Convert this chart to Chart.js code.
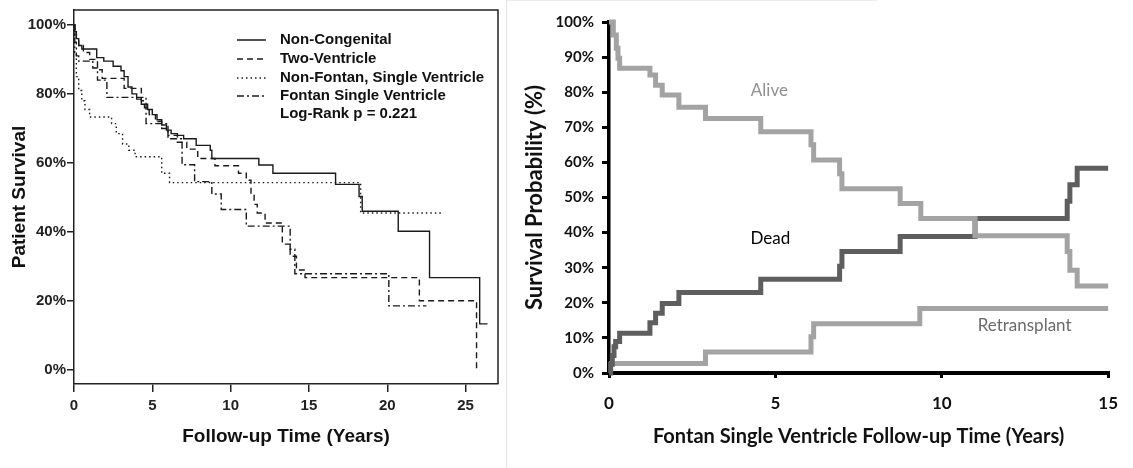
<!DOCTYPE html>
<html><head><meta charset="utf-8">
<script src="https://cdn.jsdelivr.net/npm/chart.js@4.4.1/dist/chart.umd.min.js"></script>
<style>
html,body{margin:0;padding:0;background:#fff;}
#wrap{position:relative;width:1133px;height:468px;overflow:hidden;background:#fff;}
#c1{position:absolute;left:0;top:0;}
#c2{position:absolute;left:507px;top:0;}
#divider{position:absolute;left:506px;top:0;width:1px;height:468px;background:#e4e4e4;}
#topline{position:absolute;left:507px;top:0;width:370px;height:1px;background:#ececec;}
</style></head>
<body><div id="wrap">
<canvas id="c1" width="506" height="468"></canvas>
<div id="divider"></div><div id="topline"></div>
<canvas id="c2" width="626" height="468"></canvas>
</div>
<script>
// ---------- Left panel data (years, % survival) ----------
const leftXTicks = [0, 5, 10, 15, 20, 25];
const leftYTicks = [0, 20, 40, 60, 80, 100];
const seriesNames = ['Non-Congenital', 'Two-Ventricle', 'Non-Fontan, Single Ventricle', 'Fontan Single Ventricle'];
const pValueText = 'Log-Rank p = 0.221';

const nonCongX = [0, 0.05, 0.15, 0.3, 0.5, 1.45, 1.9, 2.5, 3.0, 3.2, 3.45, 3.7, 4.0, 4.3, 4.7, 5.0, 5.3, 5.6, 5.9, 6.2, 6.6, 7.0, 7.8, 8.7, 8.8, 11.8, 12.7, 16.7, 18.2, 18.4, 20.7, 22.7, 25.9, 26.4];
const nonCongY = [100, 98, 96, 94, 93, 90.5, 89.5, 88, 86.7, 85, 82, 80, 78.5, 77, 75.5, 74, 72.5, 71, 69.5, 68.5, 68, 67, 65.1, 63.7, 61.3, 59.4, 57, 53.8, 50.3, 46, 40.2, 26.8, 13.4, 13.4];

const twoVentX = [0, 0.05, 0.15, 0.3, 0.6, 1.0, 1.5, 1.8, 3.2, 4.3, 4.5, 4.8, 5.2, 5.6, 6.0, 6.6, 7.2, 7.9, 9.0, 10.5, 11.0, 11.3, 11.5, 11.7, 12.2, 13.3, 13.8, 14.2, 14.75, 22.05, 25.7];
const twoVentY = [100, 98, 96, 94, 92, 90, 87, 84.5, 81.6, 78, 76, 74, 72, 70, 68, 66, 64, 61.3, 59.2, 57, 55, 51, 48, 45.5, 42.6, 36.5, 33, 29, 26.8, 20.1, 0];

const nonFontanX = [0, 0.05, 0.15, 0.3, 0.5, 0.7, 1.0, 2.4, 2.7, 3.1, 3.5, 3.9, 5.6, 6.1, 18.3, 23.5];
const nonFontanY = [100, 92, 85, 81, 78, 75.5, 73.3, 71.4, 68.5, 65.5, 63.7, 61.8, 57, 54.3, 45.5, 45.5];

const fontanX = [0, 0.05, 0.15, 0.3, 1.2, 1.5, 2.1, 4.6, 6.0, 6.9, 7.7, 8.8, 9.4, 11.0, 13.8, 14.1, 20.1, 22.5];
const fontanY = [100, 95, 91, 89.5, 87.5, 84, 79, 71.4, 67, 59.5, 54.6, 51, 46.5, 41.7, 35, 27.9, 18.6, 18.6];

// ---------- Right panel data (years, % probability) ----------
const rightXTicks = [0, 5, 10, 15];
const rightYTicks = [0, 10, 20, 30, 40, 50, 60, 70, 80, 90, 100];
const outcomeNames = ['Alive', 'Dead', 'Retransplant'];

const aliveX = [0, 0.03, 0.13, 0.22, 0.27, 0.32, 1.23, 1.4, 1.6, 2.1, 2.9, 4.56, 6.07, 6.15, 6.93, 7.0, 8.75, 9.37, 11.0, 13.77, 13.85, 14.07, 15];
const aliveY = [100, 100, 96.3, 92.5, 89.7, 86.8, 84.9, 82, 79.2, 75.7, 72.5, 68.7, 65, 60.7, 56.8, 52.5, 48.3, 44, 39.1, 34.6, 29.3, 24.8, 24.8];

const deadX = [0, 0.05, 0.1, 0.15, 0.2, 0.32, 1.23, 1.4, 1.6, 2.1, 4.56, 6.93, 7.0, 8.75, 11.0, 13.77, 13.85, 14.07, 15];
const deadY = [0, 2.5, 5, 7.5, 9, 11.3, 14.3, 17, 19.8, 22.9, 26.7, 30.4, 34.6, 38.9, 44, 48.9, 53.6, 58.3, 58.3];

const retxX = [0, 2.9, 6.07, 6.15, 9.34, 15];
const retxY = [2.7, 6, 10.3, 14, 18.4, 18.4];

// ---------- helpers ----------
const pts = (xs, ys) => xs.map((x, i) => ({ x: x, y: ys[i] }));
const tickSetter = arr => s => { s.ticks = arr.map(v => ({ value: v })); };
const LFONT = "'Liberation Sans', Arial, sans-serif";
const RFONT = "Lato, 'Open Sans', sans-serif";

const leftStyles = [
  { dash: [] }, { dash: [6, 4] }, { dash: [1.5, 3] }, { dash: [7, 3, 2, 3] }
];
const leftData = [pts(nonCongX, nonCongY), pts(twoVentX, twoVentY), pts(nonFontanX, nonFontanY), pts(fontanX, fontanY)];

const boxPlugin = {
  id: 'box',
  afterDatasetsDraw(chart) {
    const { ctx, chartArea: a } = chart;
    ctx.save();
    ctx.strokeStyle = '#222'; ctx.lineWidth = 1.5;
    ctx.beginPath();
    ctx.moveTo(a.left, a.top); ctx.lineTo(a.right, a.top); ctx.lineTo(a.right, a.bottom);
    ctx.stroke();
    ctx.restore();
  },
  afterDraw(chart) {
    const { ctx, chartArea: a } = chart;
    ctx.save();
    const x0 = a.left + 163, x1 = a.left + 192, tx = a.left + 206;
    const rows = [a.top + 30, a.top + 49, a.top + 68, a.top + 86, a.top + 104];
    ctx.font = "bold 15px " + LFONT;
    ctx.fillStyle = '#111';
    ctx.textBaseline = 'middle';
    seriesNames.forEach((n, i) => {
      ctx.strokeStyle = '#1a1a1a'; ctx.lineWidth = 1.5;
      ctx.setLineDash(leftStyles[i].dash);
      ctx.beginPath(); ctx.moveTo(x0, rows[i]); ctx.lineTo(x1, rows[i]); ctx.stroke();
      ctx.setLineDash([]);
      ctx.fillText(n, tx, rows[i]);
    });
    ctx.fillText(pValueText, tx, rows[4]);
    ctx.restore();
  }
};

new Chart(document.getElementById('c1'), {
  type: 'line',
  data: {
    datasets: seriesNames.map((n, i) => ({
      label: n, data: leftData[i], stepped: 'before', borderColor: '#1a1a1a',
      borderWidth: 1.4, borderDash: leftStyles[i].dash, pointRadius: 0, fill: false,
      borderCapStyle: 'butt', borderJoinStyle: 'miter'
    }))
  },
  options: {
    responsive: false, animation: false, devicePixelRatio: 1,
    layout: { padding: { top: 7, right: 8, left: 0, bottom: 0 } },
    plugins: { legend: { display: false }, tooltip: { enabled: false } },
    scales: {
      x: {
        type: 'linear', min: 0, max: 27.07,
        afterBuildTicks: tickSetter(leftXTicks),
        afterFit: s => { s.height = 84; },
        grid: { drawOnChartArea: false, drawTicks: true, tickLength: 8, color: '#222', lineWidth: 1.5 },
        border: { display: true, color: '#222', width: 1.5 },
        ticks: { font: { family: LFONT, size: 15, weight: 'bold' }, color: '#222', padding: 5, maxRotation: 0 },
        title: { display: true, text: 'Follow-up Time (Years)', font: { family: LFONT, size: 19, weight: 'bold' }, color: '#111', padding: { top: 0, bottom: 20 } }
      },
      y: {
        type: 'linear', min: -4.02, max: 104.3,
        afterBuildTicks: tickSetter(leftYTicks),
        afterFit: s => { s.width = 74; },
        grid: { drawOnChartArea: false, drawTicks: true, tickLength: 7, color: '#222', lineWidth: 1.5 },
        border: { display: true, color: '#222', width: 1.5 },
        ticks: { font: { family: LFONT, size: 15, weight: 'bold' }, color: '#222', padding: 1, callback: v => v + '%' },
        title: { display: true, text: 'Patient Survival', font: { family: LFONT, size: 19, weight: 'bold' }, color: '#111', padding: { top: 8, bottom: 0 } }
      }
    }
  },
  plugins: [boxPlugin]
});

// ---------- Right panel ----------
const rightColors = ['#a3a3a3', '#5e5e5e', '#a3a3a3'];
const rightData = [pts(aliveX, aliveY), pts(deadX, deadY), pts(retxX, retxY)];
const labelSpecs = [
  { text: outcomeNames[0], x: 4.82, y: 80.6, color: '#8f8f8f' },
  { text: outcomeNames[1], x: 4.85, y: 38.2, color: '#000' },
  { text: outcomeNames[2], x: 12.49, y: 13.4, color: '#6a6a6a' }
];
const labelPlugin = {
  id: 'labels',
  afterDatasetsDraw(chart) {
    const { ctx, scales } = chart;
    ctx.save();
    ctx.font = "17px " + RFONT;
    ctx.textAlign = 'center'; ctx.textBaseline = 'middle';
    labelSpecs.forEach(l => {
      ctx.fillStyle = l.color;
      ctx.fillText(l.text, scales.x.getPixelForValue(l.x), scales.y.getPixelForValue(l.y));
    });
    ctx.restore();
  }
};

new Chart(document.getElementById('c2'), {
  type: 'line',
  data: {
    datasets: outcomeNames.map((n, i) => ({
      label: n, data: rightData[i], stepped: 'before', borderColor: rightColors[i],
      borderWidth: 5, pointRadius: 0, fill: false, clip: 8,
      borderCapStyle: 'butt', borderJoinStyle: 'miter'
    }))
  },
  options: {
    responsive: false, animation: false, devicePixelRatio: 1,
    layout: { padding: { top: 22, right: 11, left: 0, bottom: 0 } },
    plugins: { legend: { display: false }, tooltip: { enabled: false } },
    scales: {
      x: {
        type: 'linear', min: 0, max: 15,
        afterBuildTicks: tickSetter(rightXTicks),
        afterFit: s => { s.height = 95; },
        grid: { drawOnChartArea: false, drawTicks: true, tickLength: 5, color: '#000', lineWidth: 3 },
        border: { display: true, color: '#000', width: 4 },
        ticks: { font: { family: RFONT, size: 17, weight: 'bold' }, color: '#111', padding: 15, maxRotation: 0 },
        title: { display: true, text: 'Fontan Single Ventricle Follow-up Time (Years)', font: { family: RFONT, size: 20, weight: 'bold' }, color: '#111', padding: { top: 0, bottom: 19 } }
      },
      y: {
        type: 'linear', min: 0, max: 100,
        afterBuildTicks: tickSetter(rightYTicks),
        afterFit: s => { s.width = 102; },
        grid: { drawOnChartArea: false, drawTicks: true, tickLength: 7, color: '#000', lineWidth: 3 },
        border: { display: true, color: '#000', width: 3.5 },
        ticks: { font: { family: RFONT, size: 15, weight: 'bold' }, color: '#111', padding: 8, callback: v => v + '%' },
        title: { display: true, text: 'Survival Probability (%)', font: { family: RFONT, size: 22, weight: 'bold' }, color: '#111', padding: { top: 15, bottom: 0 } }
      }
    }
  },
  plugins: [labelPlugin]
});
</script>
</body></html>
